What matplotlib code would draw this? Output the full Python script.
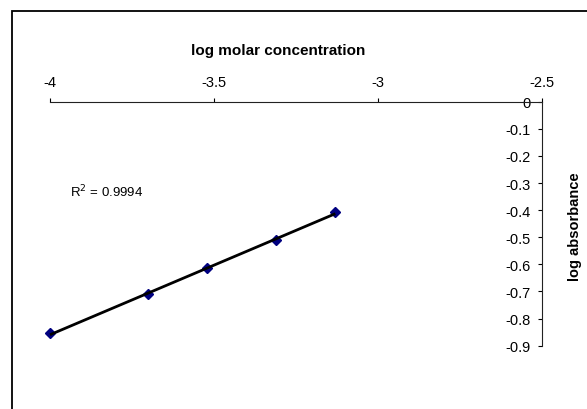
import numpy as np
import matplotlib
matplotlib.use("Agg")
import matplotlib.pyplot as plt
from matplotlib.patches import Rectangle

plt.rcParams['font.family'] = ['Liberation Sans', 'DejaVu Sans']

# data
log_conc = [-4.0, -3.70, -3.52, -3.31, -3.13]
log_abs = [-0.855, -0.711, -0.614, -0.509, -0.408]
x_ticks = [-4, -3.5, -3, -2.5]
x_labels = ["-4", "-3.5", "-3", "-2.5"]
y_ticks = [0, -0.1, -0.2, -0.3, -0.4, -0.5, -0.6, -0.7, -0.8, -0.9]
y_labels = ["0", "-0.1", "-0.2", "-0.3", "-0.4", "-0.5", "-0.6", "-0.7", "-0.8", "-0.9"]
r2_text = "R$^2$ = 0.9994"

fig = plt.figure(figsize=(5.87, 4.10), dpi=100)
ax = fig.add_axes([0.0852, 0.1544, 0.838, 0.5951])

# linear trendline
k, c = np.polyfit(log_conc, log_abs, 1)
xx = np.array([min(log_conc), max(log_conc)])
ax.plot(xx, k * xx + c, color='black', lw=2.0, zorder=3,
        solid_capstyle='butt', clip_on=False)
ax.plot(log_conc, log_abs, linestyle='none', marker='D', ms=5,
        color='#000080', zorder=2, clip_on=False)

ax.set_xlim(-4, -2.5)
ax.set_ylim(-0.9, 0)

ax.spines['bottom'].set_visible(False)
ax.spines['right'].set_visible(False)
ax.spines['left'].set_position(('data', -2.5))
for s in ['top', 'left']:
    ax.spines[s].set_linewidth(0.8)
    ax.spines[s].set_color('#222222')

ax.xaxis.tick_top()
ax.set_xticks(x_ticks)
ax.set_xticklabels(x_labels)
ax.set_yticks(y_ticks)
ax.set_yticklabels(y_labels)
ax.tick_params(axis='x', direction='out', length=3, width=0.8, labelsize=10.5, pad=6)
ax.tick_params(axis='y', direction='out', length=3, width=0.8, labelsize=10.5, pad=5)

fig.text(0.474, 0.876, "log molar concentration", ha='center', va='center',
         fontsize=11, fontweight='bold')
fig.text(0.98, 0.446, "log absorbance", ha='center', va='center',
         rotation=90, fontsize=10.5, fontweight='bold')
ax.text(-3.94, -0.33, r2_text, ha='left', va='center', fontsize=9.5)

fig.add_artist(Rectangle((0.02, -0.1), 1.1, 1.07, fill=False, lw=1.3,
                         edgecolor='black', transform=fig.transFigure))

fig.savefig("out.png", dpi=100)
